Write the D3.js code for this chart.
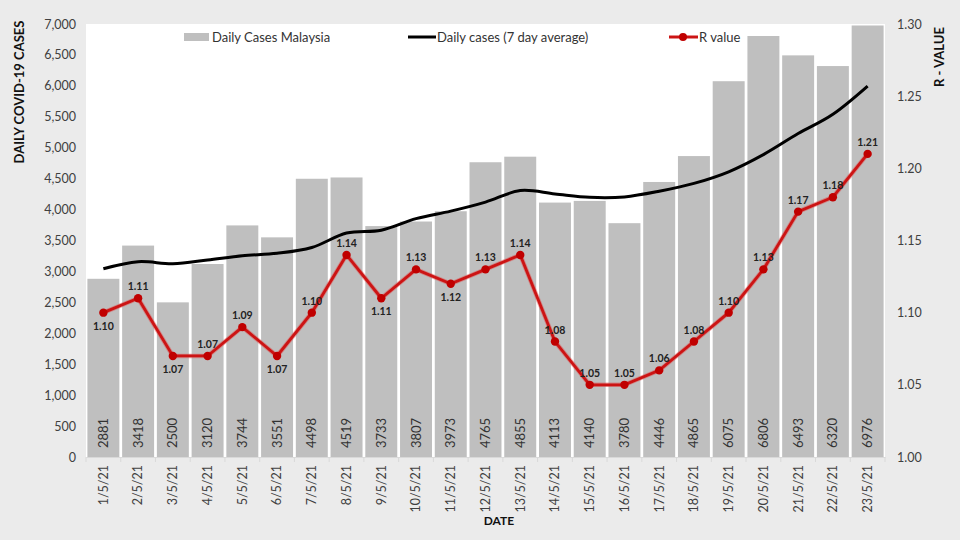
<!DOCTYPE html>
<html><head><meta charset="utf-8">
<script src="https://cdn.jsdelivr.net/npm/d3@7/dist/d3.min.js"></script>
<style>
html,body{margin:0;padding:0;background:#ebebeb;}
svg{display:block;font-family:Lato,"Open Sans",sans-serif;}
</style></head>
<body>
<svg id="chart" width="960" height="540"></svg>
<script>
const dates = ["1/5/21","2/5/21","3/5/21","4/5/21","5/5/21","6/5/21","7/5/21","8/5/21","9/5/21","10/5/21","11/5/21","12/5/21","13/5/21","14/5/21","15/5/21","16/5/21","17/5/21","18/5/21","19/5/21","20/5/21","21/5/21","22/5/21","23/5/21"];
const dailyCases = [2881,3418,2500,3120,3744,3551,4498,4519,3733,3807,3973,4765,4855,4113,4140,3780,4446,4865,6075,6806,6493,6320,6976];
const avg7 = [3044,3157,3125,3185,3254,3293,3387,3621,3666,3853,3975,4121,4307,4252,4198,4205,4296,4423,4611,4889,5229,5541,5997];
const rValues = [1.10,1.11,1.07,1.07,1.09,1.07,1.10,1.14,1.11,1.13,1.12,1.13,1.14,1.08,1.05,1.05,1.06,1.08,1.10,1.13,1.17,1.18,1.21];
const rLabelBelow = ["1/5/21","3/5/21","6/5/21","9/5/21","11/5/21"];
const leftTicks = [0,500,1000,1500,2000,2500,3000,3500,4000,4500,5000,5500,6000,6500,7000];
const rightTicks = [1.00,1.05,1.10,1.15,1.20,1.25,1.30];

const svg = d3.select("#chart");
const L = 86, R = 885, T = 24, B = 457;

const x = d3.scaleBand().domain(dates).range([L, R]).paddingInner(0.08).paddingOuter(0.04);
const y = d3.scaleLinear().domain([0, 7000]).range([B, T]);
const yr = d3.scaleLinear().domain([1.00, 1.30]).range([B, T]);

// plot area
svg.append("rect").attr("x", L).attr("y", T).attr("width", R - L).attr("height", B - T).attr("fill", "#ffffff");

// bars
svg.append("g").selectAll("rect").data(dates).join("rect")
  .attr("x", d => x(d)).attr("width", x.bandwidth())
  .attr("y", (d, i) => y(dailyCases[i])).attr("height", (d, i) => B - y(dailyCases[i]))
  .attr("fill", "#bfbfbf");

// bar value labels
svg.append("g").selectAll("text").data(dates).join("text")
  .attr("transform", d => `translate(${x(d) + x.bandwidth() / 2 + 4.5},${B - 9}) rotate(-90)`)
  .attr("font-size", 13).attr("font-family", "Lato").attr("fill", "#333333")
  .text((d, i) => dailyCases[i]);

// left axis
const ly = d3.axisLeft(y).tickValues(leftTicks).tickFormat(d3.format(",")).tickSize(0).tickPadding(10);
const gl = svg.append("g").attr("transform", `translate(${L},0)`).call(ly);
gl.select(".domain").remove();
gl.selectAll("text").attr("font-size", 12.5).attr("fill", "#404040").attr("font-family", "Lato");

// right axis
const ry = d3.axisRight(yr).tickValues(rightTicks).tickFormat(d3.format(".2f")).tickSize(0).tickPadding(12);
const gr = svg.append("g").attr("transform", `translate(${R},0)`).call(ry);
gr.select(".domain").remove();
gr.selectAll("text").attr("font-size", 12.5).attr("fill", "#404040").attr("font-family", "Lato");

// bottom axis
const bx = d3.axisBottom(x).tickSize(0).tickPadding(0);
const gb = svg.append("g").attr("transform", `translate(0,${B})`).call(bx);
gb.select(".domain").attr("stroke", "#d9d9d9");
gb.selectAll("text").attr("font-size", 12.5).attr("fill", "#404040").attr("font-family", "Lato")
  .attr("text-anchor", "end").attr("dy", "0.35em")
  .attr("transform", "translate(0,8) rotate(-90)").attr("x", 0).attr("y", 0);
// category separators
svg.append("g").selectAll("line").data(dates.concat(["end"])).join("line")
  .attr("x1", (d, i) => i < dates.length ? x(d) - x.step() * x.paddingInner() / 2 : R)
  .attr("x2", (d, i) => i < dates.length ? x(d) - x.step() * x.paddingInner() / 2 : R)
  .attr("y1", B).attr("y2", B + 5).attr("stroke", "#d9d9d9");

// 7 day average line
const line = d3.line().x((d, i) => x(dates[i]) + x.bandwidth() / 2).y(d => y(d)).curve(d3.curveCardinal.tension(0));
svg.append("path").datum(avg7).attr("d", line).attr("fill", "none").attr("stroke", "#000").attr("stroke-width", 3);

// R line
const rline = d3.line().x((d, i) => x(dates[i]) + x.bandwidth() / 2).y(d => yr(d));
svg.append("path").datum(rValues).attr("d", rline).attr("fill", "none").attr("stroke", "#e05050").attr("stroke-width", 4.5).attr("stroke-opacity", 0.5);
svg.append("path").datum(rValues).attr("d", rline).attr("fill", "none").attr("stroke", "#cc1414").attr("stroke-width", 2.8);
svg.append("g").selectAll("circle").data(rValues).join("circle")
  .attr("cx", (d, i) => x(dates[i]) + x.bandwidth() / 2).attr("cy", d => yr(d)).attr("r", 4.2)
  .attr("fill", "#c00000");
svg.append("g").selectAll("text").data(rValues).join("text")
  .attr("x", (d, i) => x(dates[i]) + x.bandwidth() / 2)
  .attr("y", (d, i) => yr(d) + (rLabelBelow.includes(dates[i]) ? 17 : -8))
  .attr("text-anchor", "middle").attr("font-size", 10.5).attr("font-weight", "bold").attr("fill", "#222")
  .text(d => d.toFixed(2));

// axis titles
svg.append("text").attr("transform", "translate(24,92) rotate(-90)").attr("text-anchor", "middle")
  .attr("font-size", 13).attr("font-weight", "bold").attr("fill", "#111").text("DAILY COVID-19 CASES");
svg.append("text").attr("transform", "translate(944,57) rotate(-90)").attr("text-anchor", "middle")
  .attr("font-size", 13).attr("font-weight", "bold").attr("fill", "#111").text("R - VALUE");
svg.append("text").attr("x", 499).attr("y", 525).attr("text-anchor", "middle")
  .attr("font-size", 12).attr("font-weight", "bold").attr("fill", "#111").text("DATE");

// legend
const lg = svg.append("g").attr("font-size", 13).attr("fill", "#333");
lg.append("rect").attr("x", 184).attr("y", 33).attr("width", 25).attr("height", 8).attr("fill", "#bfbfbf");
lg.append("text").attr("x", 212).attr("y", 42).text("Daily Cases Malaysia");
lg.append("line").attr("x1", 408).attr("x2", 436).attr("y1", 37).attr("y2", 37).attr("stroke", "#000").attr("stroke-width", 3);
lg.append("text").attr("x", 437).attr("y", 42).text("Daily cases (7 day average)");
lg.append("line").attr("x1", 669).attr("x2", 698).attr("y1", 37).attr("y2", 37).attr("stroke", "#cc1414").attr("stroke-width", 3);
lg.append("circle").attr("cx", 683).attr("cy", 37).attr("r", 4).attr("fill", "#c00000");
lg.append("text").attr("x", 699).attr("y", 42).text("R value");
</script>
</body></html>
